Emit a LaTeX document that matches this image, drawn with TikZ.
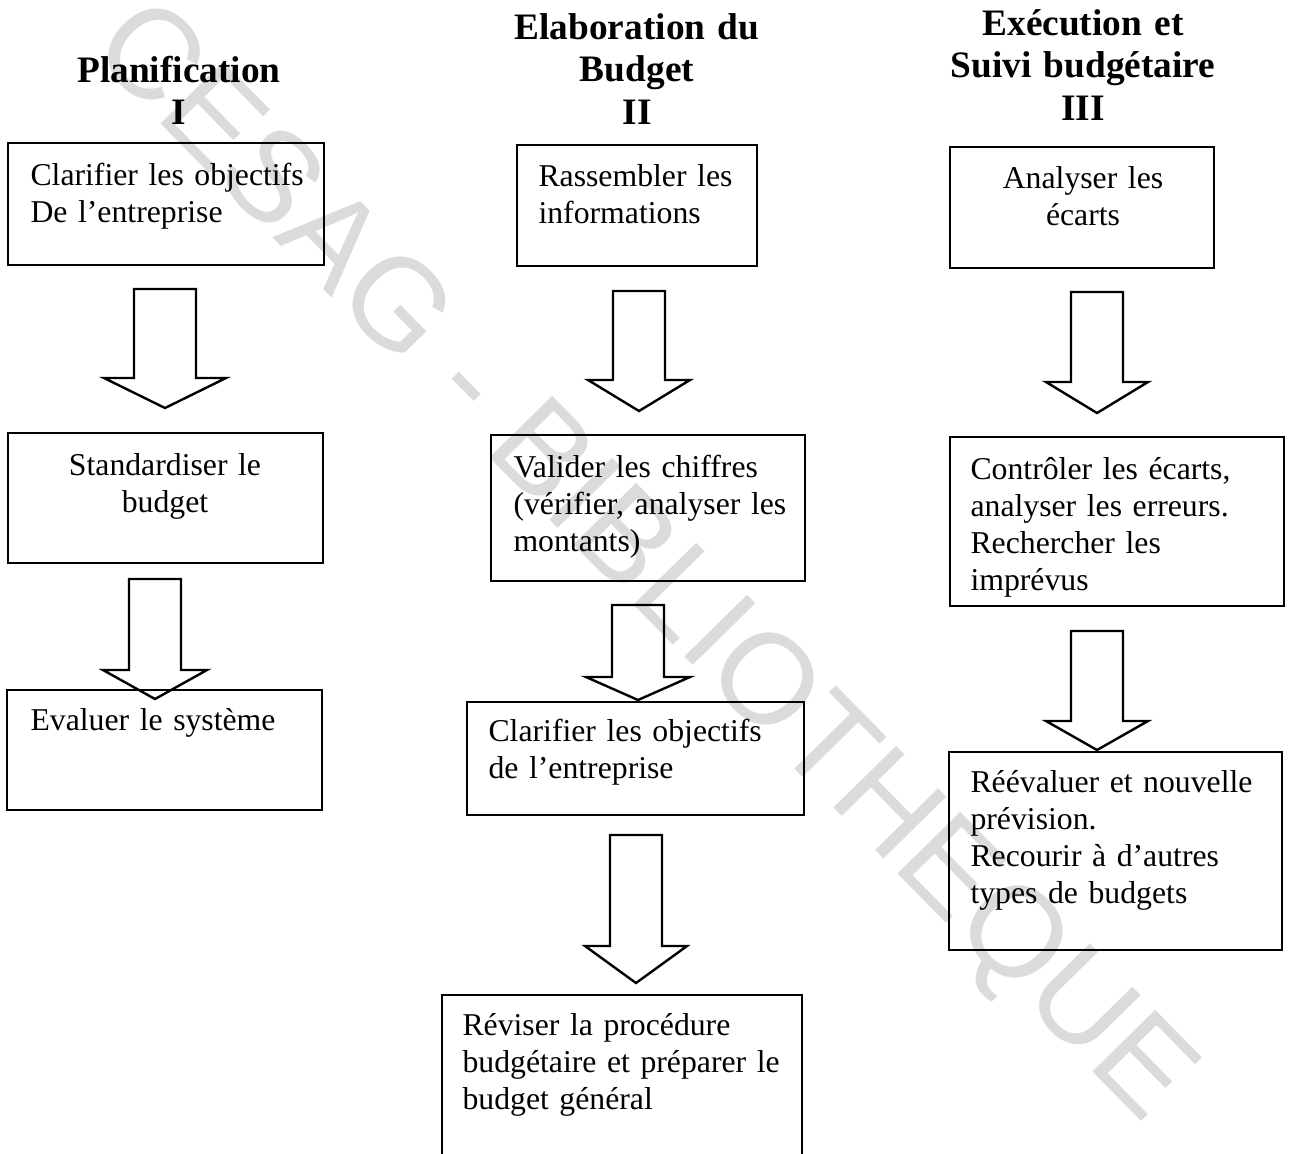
\documentclass[tikz,border=0pt]{standalone}
\usepackage{fontspec}
\setmainfont{Liberation Serif}
\newfontfamily\wmfont{Liberation Sans}
\usetikzlibrary{calc,fit}

\tikzset{
  stage/.style={draw, line width=0.9pt, inner sep=0pt},
  stagetext/.style={anchor=base west, inner sep=0pt, text width=140pt, align=left,
    font=\fontsize{11.9pt}{13.875pt}\selectfont},
  stagetextc/.style={stagetext, anchor=base, align=center},
  phase/.style={anchor=base, inner sep=0pt, text width=150pt, align=center,
    font=\fontsize{14pt}{16.1pt}\selectfont\bfseries},
  blockarrow/.style={draw, line width=0.9pt, line join=miter},
  wm/.style={text=black!14, rotate=-45.5, inner sep=0pt,
    font=\wmfont\fontsize{48pt}{58pt}\selectfont},
}

% tip, total length, shaft half width, head half width, head length
\newcommand{\bigarrow}[5]{%
  \draw[blockarrow] (#1) -- ++(-#4,-#5) -- ++(#4-#3,0) -- ++(0,#5-#2)
    -- ++(2*#3,0) -- ++(0,#2-#5) -- ++(#4-#3,0) -- cycle;}

\begin{document}
\begin{tikzpicture}[x=0.375pt, y=-0.375pt]
  \useasboundingbox (0,0) rectangle (1290,1153);
  \clip (0,0) rectangle (1290,1153);

  \node[wm] (wm) at (640,565) {CESAG - BIBLIOTHEQUE};

  % phase titles
  \node[phase] (h1) at (179,82) {Planification\\I};
  \node[phase] (h2) at (637,39) {Elaboration du\\Budget\\II};
  \node[phase] (h3) at (1083,35) {Exécution et\\Suivi budgétaire\\III};

  % I
  \node[stage, fit={(8,143) (324,265)}] (p1) {};
  \node[stage, fit={(8,433) (323,563)}] (p2) {};
  \node[stage, fit={(7,690) (322,810)}] (p3) {};
  \node[stagetext] (p1t) at (30,185) {Clarifier les objectifs\\De l’entreprise};
  \node[stagetextc] (p2t) at (165,475) {Standardiser le\\budget};
  \node[stagetext] (p3t) at (30,730) {Evaluer le système};

  % II
  \node[stage, fit={(517,145) (757,266)}] (q1) {};
  \node[stage, fit={(491,435) (805,581)}] (q2) {};
  \node[stage, fit={(467,702) (804,815)}] (q3) {};
  \node[stage, fit={(442,995) (802,1165)}] (q4) {};
  \node[stagetext] (q1t) at (538,186) {Rassembler les\\informations};
  \node[stagetext] (q2t) at (513,477) {Valider les chiffres\\(vérifier, analyser les\\montants)};
  \node[stagetext] (q3t) at (488,741) {Clarifier les objectifs\\de l’entreprise};
  \node[stagetext] (q4t) at (462,1035) {Réviser la procédure\\budgétaire et préparer le\\budget général};

  % III
  \node[stage, fit={(950,147) (1214,268)}] (r1) {};
  \node[stage, fit={(950,437) (1284,606)}] (r2) {};
  \node[stage, fit={(949,752) (1282,950)}] (r3) {};
  \node[stagetextc] (r1t) at (1083,188) {Analyser les\\écarts};
  \node[stagetext] (r2t) at (970,479) {Contrôler les écarts,\\analyser les erreurs.\\Rechercher les\\imprévus};
  \node[stagetext] (r3t) at (970,792) {Réévaluer et nouvelle\\prévision.\\Recourir à d’autres\\types de budgets};

  % arrow tips
  \coordinate (pa1) at (165,408);
  \coordinate (pa2) at (155,699);
  \coordinate (qa1) at (639,411);
  \coordinate (qa2) at (638,700);
  \coordinate (qa3) at (636,983);
  \coordinate (ra1) at (1097,413);
  \coordinate (ra2) at (1097,750);

  \bigarrow{pa1}{119}{31}{61}{30}
  \bigarrow{pa2}{120}{26}{52}{29}
  \bigarrow{qa1}{120}{26}{51}{31}
  \bigarrow{qa2}{95}{26}{52}{23}
  \bigarrow{qa3}{148}{26}{51}{37}
  \bigarrow{ra1}{121}{26}{51}{31}
  \bigarrow{ra2}{119}{26}{51}{29}
\end{tikzpicture}
\end{document}
